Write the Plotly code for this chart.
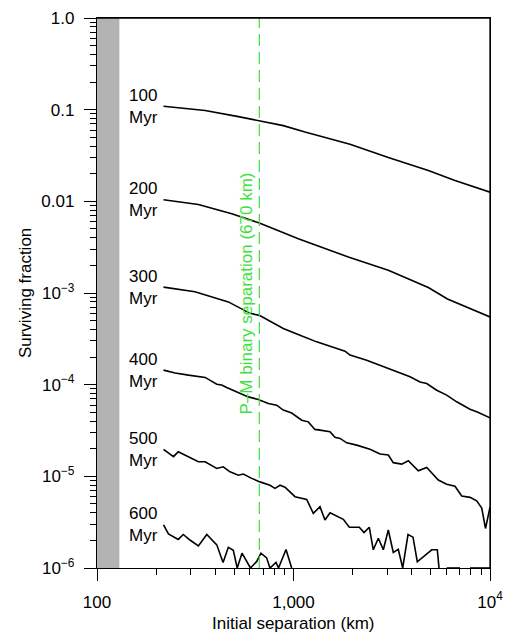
import math
import plotly.graph_objects as go

# ---- data ----
ages = ["100", "200", "300", "400", "500", "600"]

sep_100 = [218, 355, 524, 670, 887, 1144, 1939, 3037, 4853, 6635, 10000]
frac_100 = [0.109, 0.098, 0.084, 0.076, 0.067, 0.057, 0.042, 0.030, 0.0217, 0.0169, 0.0126]

sep_200 = [218, 328, 485, 601, 670, 1058, 1901, 3037, 4853, 6077, 10000]
frac_200 = [0.0104, 0.00925, 0.00733, 0.0063, 0.0058, 0.00391, 0.00247, 0.00177, 0.00115, 0.00086, 0.000548]

sep_300 = [218, 315, 466, 601, 670, 887, 1079, 1312, 1829, 1939, 2358, 2756, 3098, 3917, 4403,
           4764, 5356, 6020, 6770, 7911, 8557, 10000]
frac_300 = [0.00116, 0.00103, 0.0008, 0.0006, 0.00057, 0.00041, 0.000346, 0.000293, 0.000232, 0.00021,
            0.000185, 0.000163, 0.00015, 0.000122, 0.000107, 0.000103, 8.7e-5, 7.7e-5, 6.5e-5,
            5.4e-5, 5.05e-5, 4.35e-5]

sep_400 = [218, 250, 292, 355, 407, 431, 457, 514, 589, 662, 744, 821, 887, 979, 1101, 1189, 1286,
           1364, 1534, 1626, 1725, 1866, 2097, 2451, 2756, 3037, 3220, 3553, 3840, 4316, 4764, 5457,
           6020, 6635, 7178, 7911, 8557, 9075, 9487, 10000]
frac_400 = [1.44e-4, 1.34e-4, 1.27e-4, 1.2e-4, 1.01e-4, 9.9e-5, 9.3e-5, 8.35e-5, 7.36e-5, 6.9e-5,
            6.24e-5, 5.98e-5, 5.28e-5, 4.9e-5, 4.1e-5, 3.93e-5, 3.25e-5, 3.19e-5, 3.06e-5, 2.66e-5,
            2.59e-5, 2.32e-5, 2.19e-5, 1.97e-5, 1.75e-5, 1.71e-5, 1.41e-5, 1.36e-5, 1.48e-5, 1.15e-5,
            1.25e-5, 9.1e-6, 8.2e-6, 7.8e-6, 6.1e-6, 5.9e-6, 5.4e-6, 4.5e-6, 2.7e-6, 4.6e-6]

sep_500 = [218, 245, 259, 292, 328, 355, 407, 439, 475, 524, 555, 613, 675, 759, 805, 854, 905,
           1018, 1101, 1167, 1261, 1364, 1446, 1534, 1793, 1923, 2162, 2285, 2431, 2547, 2702, 2864,
           3037, 3220, 3414, 3595, 3826, 4057, 4266, 5051, 5393, 5502, 5750, 6020, 7036, 7400, 7911,
           10000]
frac_500 = [1.97e-5, 1.64e-5, 1.85e-5, 1.64e-5, 1.44e-5, 1.44e-5, 1.22e-5, 1.27e-5, 1.12e-5, 1.03e-5,
            1.06e-5, 9.5e-6, 8.7e-6, 8.0e-6, 7.4e-6, 8.0e-6, 7.6e-6, 6.0e-6, 5.8e-6, 5.6e-6,
            3.95e-6, 4.66e-6, 3.34e-6, 4.0e-6, 3.4e-6, 2.78e-6, 2.78e-6, 2.43e-6, 2.78e-6, 1.58e-6,
            2.11e-6, 1.58e-6, 2.6e-6, 1.48e-6, 1.6e-6, 1.0e-6, 2.32e-6, 2.17e-6, 1.17e-6, 1.58e-6,
            1.58e-6, 1.0e-6, None, 1.0e-6, 1.0e-6, None, 1.0e-6, 1.0e-6]

sep_600 = [218, 231, 259, 275, 297, 328, 362, 407, 438, 466, 494, 517, 547, 604, 650, 683, 730,
           759, 815, 839, 916, 979]
frac_600 = [2.95e-6, 2.35e-6, 2.05e-6, 2.32e-6, 2.02e-6, 1.74e-6, 2.32e-6, 1.79e-6, 1.15e-6, 1.68e-6,
            1.56e-6, 1.0e-6, 1.45e-6, 1.0e-6, 1.18e-6, 1.45e-6, 1.29e-6, 1.0e-6, 1.15e-6, 1.0e-6,
            1.59e-6, 1.0e-6]

series = [(sep_100, frac_100), (sep_200, frac_200), (sep_300, frac_300),
          (sep_400, frac_400), (sep_500, frac_500), (sep_600, frac_600)]

excluded_band = [100, 130]          # grey shaded region (km)
pm_separation = 670                 # km
pm_label = "P–M binary separation (670 km)"
x_title = "Initial separation (km)"
y_title = "Surviving fraction"

x_tickvals = [100, 1000, 10000]
x_ticktext = ["100", "1,000", "10<sup>4</sup>"]
y_tickvals = [1, 0.1, 0.01, 1e-3, 1e-4, 1e-5, 1e-6]
y_ticktext = ["1.0", "0.1", "0.01", "10<sup>−3</sup>", "10<sup>−4</sup>", "10<sup>−5</sup>", "10<sup>−6</sup>"]

FONT = "Liberation Sans, Arial, Helvetica, sans-serif"
GREEN = "#3ee03e"

fig = go.Figure()
for sep, frac in series:
    fig.add_trace(go.Scatter(x=sep, y=frac, mode="lines", connectgaps=False,
                             line=dict(color="black", width=1.6),
                             showlegend=False, hoverinfo="skip"))

x_minor = [k * 10 ** e for e in range(2, 4) for k in range(2, 10)]
y_minor = [k * 10.0 ** e for e in range(-6, 0) for k in range(2, 10)]

fig.add_shape(type="rect", xref="x", yref="paper", x0=excluded_band[0], x1=excluded_band[1],
              y0=0, y1=1, fillcolor="#b3b3b3", line=dict(width=0), layer="below")
fig.add_shape(type="line", xref="x", yref="paper", x0=pm_separation, x1=pm_separation,
              y0=0, y1=1, line=dict(color=GREEN, width=1.2, dash="12px,6px"))
# frame: top border as a thin filled strip, right border as a line
fig.add_shape(type="rect", xref="paper", yref="paper", x0=0, x1=1, y0=0.9985, y1=1.0015,
              fillcolor="black", line=dict(width=0), layer="above")
fig.add_shape(type="line", xref="paper", yref="paper", x0=1, x1=1, y0=0, y1=1,
              line=dict(color="black", width=1.3), layer="above")

for age, (sep, frac) in zip(ages, series):
    fig.add_annotation(x=math.log10(142), y=math.log10(frac[0]), xref="x", yref="y",
                       text=f"{age}<br>Myr", showarrow=False, xanchor="left", yanchor="middle",
                       align="left", font=dict(size=17, color="black", family=FONT))

fig.add_annotation(x=math.log10(576), y=0.5, xref="x", yref="paper", text=pm_label,
                   textangle=-90, showarrow=False, xanchor="center", yanchor="middle",
                   font=dict(size=17, color=GREEN, family=FONT))

# axis titles
fig.add_annotation(x=0.5, y=-0.101, xref="paper", yref="paper", text=x_title, showarrow=False,
                   xanchor="center", yanchor="middle", font=dict(size=17, color="black", family=FONT))
fig.add_annotation(x=-0.183, y=0.5, xref="paper", yref="paper", text=y_title, showarrow=False,
                   textangle=-90, xanchor="center", yanchor="middle",
                   font=dict(size=17, color="black", family=FONT))

axis_common = dict(type="log", showline=True, linecolor="black", linewidth=1.3, mirror=True,
                   ticks="outside", ticklen=12, tickwidth=1.2, tickcolor="black",
                   showgrid=False, zeroline=False, tickmode="array", automargin=False,
                   ticklabelstandoff=6, ticklabeloverflow="allow",
                   tickfont=dict(size=17, color="black", family=FONT))

fig.update_xaxes(range=[2, 4], tickvals=x_tickvals, ticktext=x_ticktext,
                 minor=dict(tickmode="array", tickvals=x_minor, ticks="outside", ticklen=6,
                            tickwidth=1.2, tickcolor="black", showgrid=False),
                 **axis_common)
fig.update_yaxes(range=[-6, 0], tickvals=y_tickvals, ticktext=y_ticktext,
                 minor=dict(tickmode="array", tickvals=y_minor, ticks="outside", ticklen=6,
                            tickwidth=1.2, tickcolor="black", showgrid=False),
                 **axis_common)

fig.update_layout(width=507, height=634, margin=dict(l=97, r=17, t=18, b=66, autoexpand=False),
                  plot_bgcolor="white", paper_bgcolor="white", template="none",
                  font=dict(family=FONT, size=17, color="black"))

# remove the browser's default 8 px page margin so the figure sits at the window's corner
fig.write_html("out.html", config={"displayModeBar": False},
               post_script="document.body.style.margin='0';")
